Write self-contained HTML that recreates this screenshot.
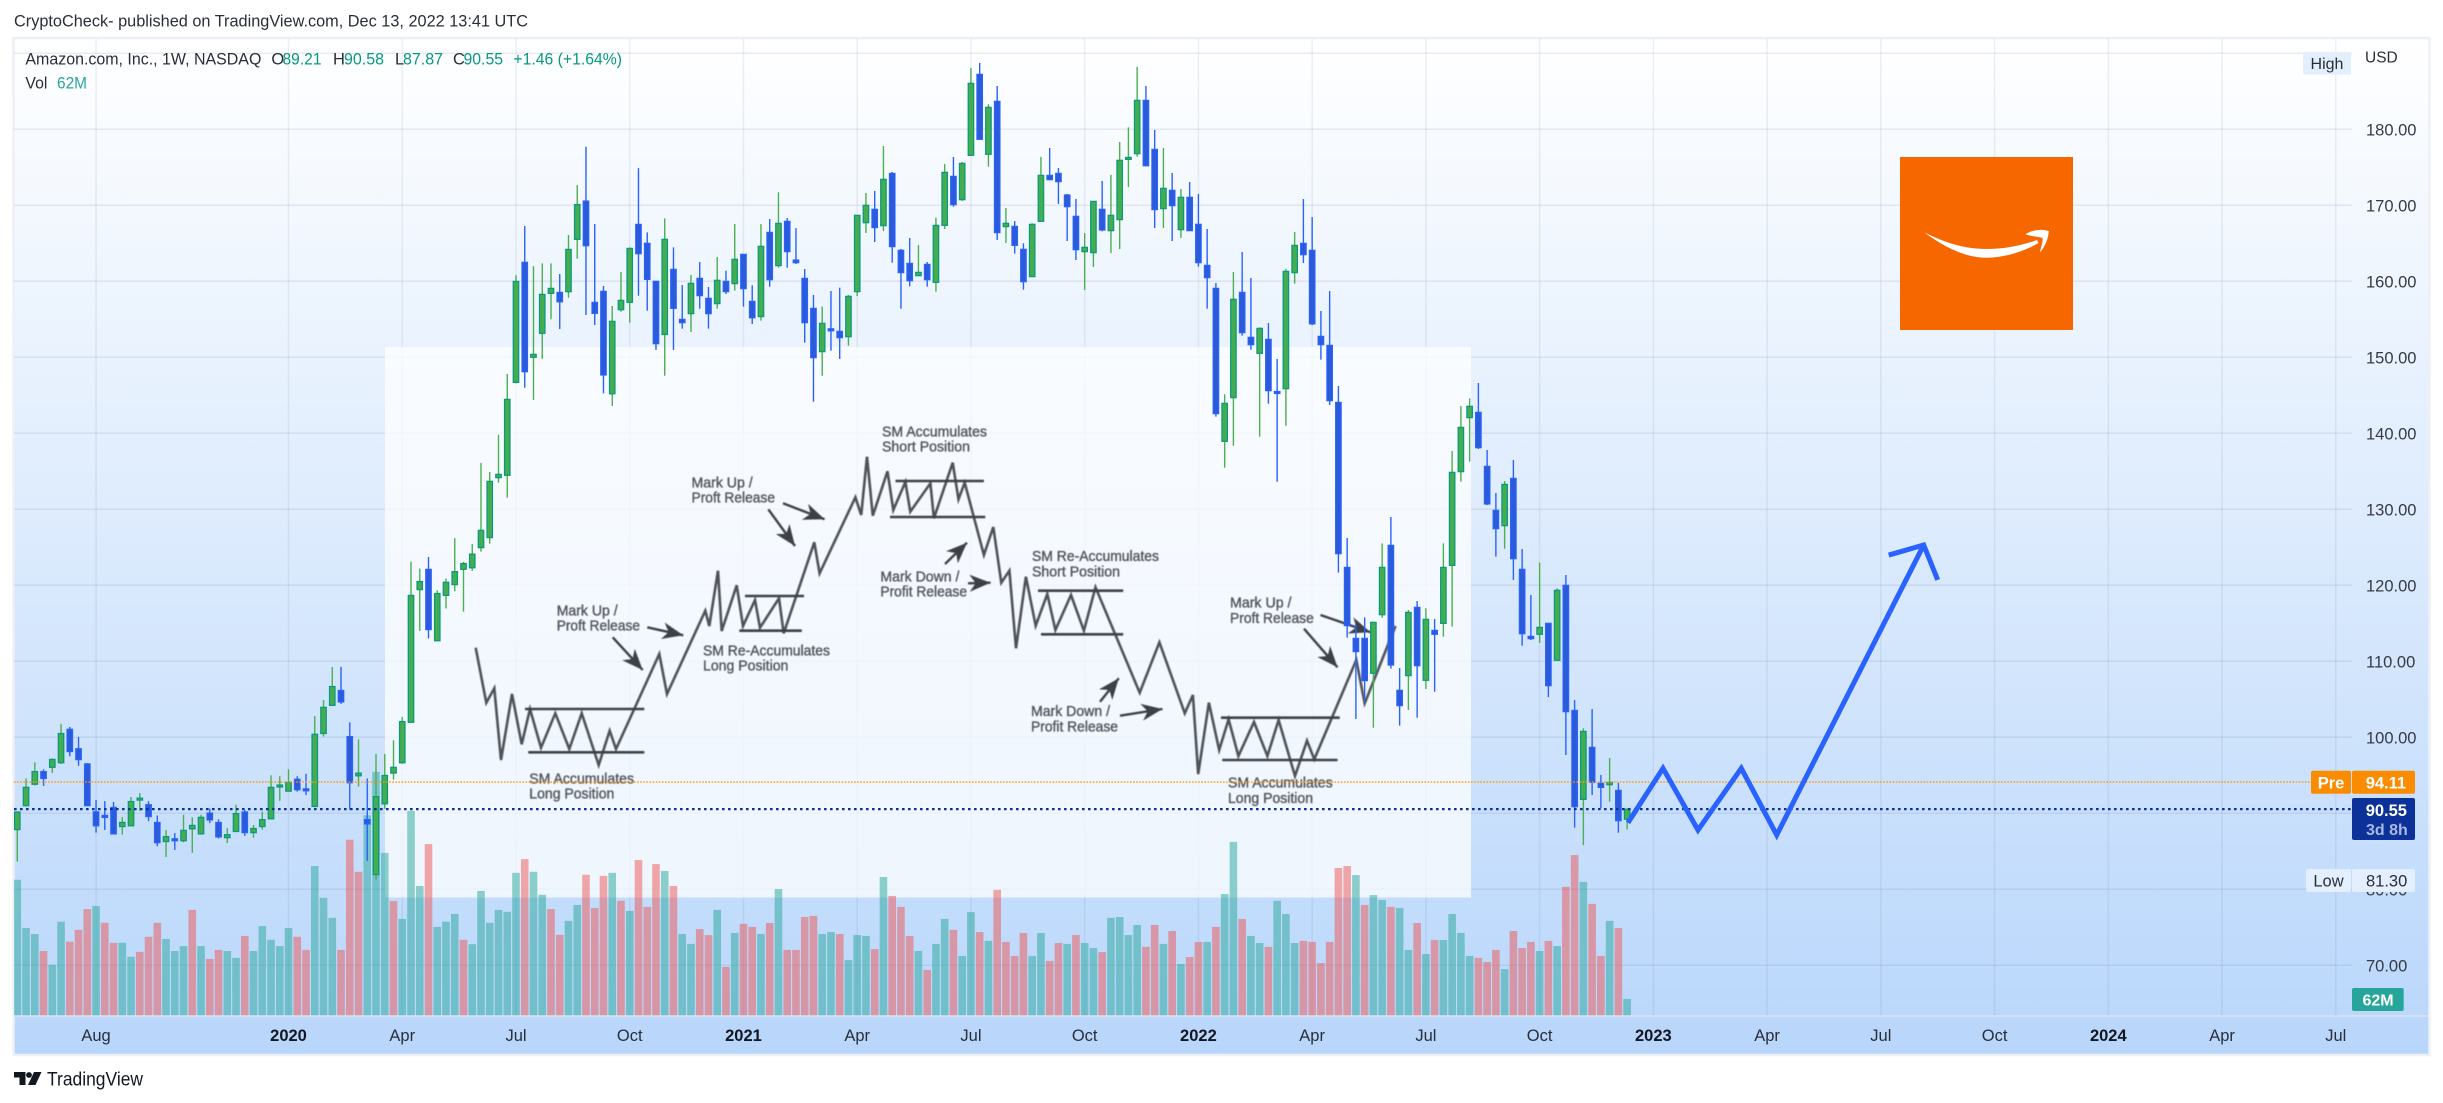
<!DOCTYPE html>
<html lang="en">
<head>
<meta charset="utf-8">
<title>Amazon.com weekly chart</title>
<style>
html,body{margin:0;padding:0;background:#fff;width:2443px;height:1103px;overflow:hidden}
svg{display:block}
text{font-family:"Liberation Sans",sans-serif}
</style>
</head>
<body>
<svg id="chart" xmlns="http://www.w3.org/2000/svg" width="2443" height="1103" viewBox="0 0 2443 1103">
<defs>
<linearGradient id="bgGrad" gradientUnits="userSpaceOnUse" x1="0" y1="38" x2="0" y2="1054">
<stop offset="0" stop-color="#ffffff"/><stop offset="1" stop-color="#b8d6fb"/>
</linearGradient>
<clipPath id="plotClip"><rect x="14" y="38" width="2338" height="978"/></clipPath>
<marker id="headM" markerUnits="userSpaceOnUse" markerWidth="22" markerHeight="18" refX="21" refY="9" orient="auto">
<path d="M0,0.5 L21,9 L0,17.5 L6,9z" fill="#3d4146"/>
</marker>
</defs>

<text x="14" y="26.5" font-size="16.5" fill="#2a2e39" textLength="514" lengthAdjust="spacingAndGlyphs">CryptoCheck- published on TradingView.com, Dec 13, 2022 13:41 UTC</text>

<rect x="13.5" y="38" width="2416" height="1017" fill="url(#bgGrad)" stroke="#eef0f6" stroke-width="2.5"/>

<g id="gridLayer"></g>

<rect x="385" y="347" width="1086" height="550.5" fill="#ffffff" fill-opacity="0.72"/>

<g style="filter:blur(0.45px)">
<polyline fill="none" stroke="#4f5357" stroke-width="2.6" stroke-linejoin="miter" points="475.7,647.7 486.3,702.7 494.3,688.3 501,760 512,694 521.7,744.3 530,709 541,747.7 555.3,713.3 569.3,749 581.7,713.3 598.7,765 609.7,730.7 616,749 659.3,654 667,694 705.3,610.7 709.3,626 718,570.7 721.7,631 736.7,585.3 743,626 755,600 760,627.7 779,598.3 783.7,633.3 814.3,542.3 819.6,573.3 855.4,497.3 861.2,515 867,456.7 872.8,515.7 887.5,471.3 893.3,510 905.4,482 910.3,511.7 930.4,483.3 933.9,518.3 952.7,462.7 958.5,499.3 964.7,482.7 983.9,555 993.3,527 1001.3,582.7 1009.4,570.7 1016,648.3 1025.9,576.7 1035.7,625.7 1047.3,594 1055.4,630 1071,595 1083.9,630.7 1095.5,587.3 1139.7,692.7 1159.4,642.3 1184.8,713.3 1192.9,695 1198.2,774 1208.9,702.7 1219.2,750 1228.6,719.3 1238.4,756 1254,722 1267.4,756 1278.6,720 1295,776 1307,740.7 1314.3,759.3 1356.3,660 1364.7,703.3 1395.5,626"/>
<g stroke="#3d4146" stroke-width="2.6">
<line x1="525" y1="709" x2="644.3" y2="709"/>
<line x1="528.3" y1="752.3" x2="644.3" y2="752.3"/>
<line x1="745" y1="596" x2="804" y2="596"/>
<line x1="739.3" y1="630.7" x2="801.8" y2="630.7"/>
<line x1="895.5" y1="481" x2="983.9" y2="481"/>
<line x1="890" y1="517" x2="985.3" y2="517"/>
<line x1="1038" y1="590.7" x2="1123.2" y2="590.7"/>
<line x1="1041" y1="634.3" x2="1123.2" y2="634.3"/>
<line x1="1221" y1="717.7" x2="1339.7" y2="717.7"/>
<line x1="1222.3" y1="760" x2="1337.5" y2="760"/>
</g>
<g stroke="#3d4146" stroke-width="2.4">
<line x1="647.3" y1="627.3" x2="683.3" y2="635.3" marker-end="url(#headM)"/>
<line x1="612.7" y1="637.3" x2="642.7" y2="670" marker-end="url(#headM)"/>
<line x1="783" y1="503.3" x2="824.6" y2="519.3" marker-end="url(#headM)"/>
<line x1="768.3" y1="509.3" x2="795" y2="546" marker-end="url(#headM)"/>
<line x1="945" y1="564" x2="967" y2="542.7" marker-end="url(#headM)"/>
<line x1="968" y1="583.3" x2="990.6" y2="582.7" marker-end="url(#headM)"/>
<line x1="1100" y1="701.7" x2="1118.8" y2="678.3" marker-end="url(#headM)"/>
<line x1="1120" y1="715.7" x2="1162.5" y2="709" marker-end="url(#headM)"/>
<line x1="1320.5" y1="615" x2="1370.5" y2="632.3" marker-end="url(#headM)"/>
<line x1="1304" y1="628.7" x2="1337.5" y2="667.3" marker-end="url(#headM)"/>
</g>
<g font-size="14.5" fill="#505358" stroke="#505358" stroke-width="0.35">
<text x="556.7" y="615.3" textLength="61" lengthAdjust="spacingAndGlyphs">Mark Up /</text>
<text x="556.7" y="630.3" textLength="83.3" lengthAdjust="spacingAndGlyphs">Proft Release</text>
<text x="529.3" y="783.3" textLength="104.7" lengthAdjust="spacingAndGlyphs">SM Accumulates</text>
<text x="529.3" y="798.7" textLength="85" lengthAdjust="spacingAndGlyphs">Long Position</text>
<text x="703" y="655.4" textLength="127" lengthAdjust="spacingAndGlyphs">SM Re-Accumulates</text>
<text x="703" y="670.7" textLength="85.4" lengthAdjust="spacingAndGlyphs">Long Position</text>
<text x="691.5" y="487.3" textLength="61.2" lengthAdjust="spacingAndGlyphs">Mark Up /</text>
<text x="691.5" y="502.3" textLength="83.5" lengthAdjust="spacingAndGlyphs">Proft Release</text>
<text x="882" y="436.3" textLength="105" lengthAdjust="spacingAndGlyphs">SM Accumulates</text>
<text x="882" y="451.7" textLength="88" lengthAdjust="spacingAndGlyphs">Short Position</text>
<text x="880.4" y="581.7" textLength="79" lengthAdjust="spacingAndGlyphs">Mark Down /</text>
<text x="880.4" y="596.7" textLength="86.6" lengthAdjust="spacingAndGlyphs">Profit Release</text>
<text x="1032" y="561" textLength="127" lengthAdjust="spacingAndGlyphs">SM Re-Accumulates</text>
<text x="1032" y="576.3" textLength="88" lengthAdjust="spacingAndGlyphs">Short Position</text>
<text x="1031" y="716" textLength="79" lengthAdjust="spacingAndGlyphs">Mark Down /</text>
<text x="1031" y="731.3" textLength="87" lengthAdjust="spacingAndGlyphs">Profit Release</text>
<text x="1230" y="607.7" textLength="61.5" lengthAdjust="spacingAndGlyphs">Mark Up /</text>
<text x="1230" y="623" textLength="83.8" lengthAdjust="spacingAndGlyphs">Proft Release</text>
<text x="1228" y="787.7" textLength="104.6" lengthAdjust="spacingAndGlyphs">SM Accumulates</text>
<text x="1228" y="803" textLength="85" lengthAdjust="spacingAndGlyphs">Long Position</text>
</g>
</g>

<g id="volumeLayer" clip-path="url(#plotClip)"></g>
<g id="candleLayer" clip-path="url(#plotClip)"></g>
<g id="priceLines"></g>
<g id="forecastLayer"></g>

<g>
<rect x="1900" y="157" width="173" height="173" fill="#f76700"/>
<path fill="#ffffff" d="M1924.2,232.3 C1948,250 1968,257.7 1986.5,257.7 C2005,257.7 2025,251 2038.5,243 L2037,240 C2020,246 2003,249 1986.5,249 C1965,249 1945,243 1924.2,232.3Z"/>
<path fill="#ffffff" d="M2025.4,234.3 C2031,230.5 2040,228.5 2048.8,231 C2048.5,238 2045,247 2039.8,252.7 C2041,247 2043,242 2042.6,238 C2038,236.5 2031,236.5 2025.4,234.3Z"/>
</g>

<line x1="14" y1="1016" x2="2429" y2="1016" stroke="#e0e3eb" stroke-width="1.5"/>
<g id="priceAxis"></g>
<g id="timeAxis"></g>

<g font-size="16.5">
<text x="25.4" y="64.5" fill="#2a2e39" textLength="236" lengthAdjust="spacingAndGlyphs">Amazon.com, Inc., 1W, NASDAQ</text>
<text x="271.4" y="64.5" fill="#2a2e39">O</text>
<text x="282.5" y="64.5" fill="#089981" textLength="39" lengthAdjust="spacingAndGlyphs">89.21</text>
<text x="333" y="64.5" fill="#2a2e39">H</text>
<text x="344" y="64.5" fill="#089981" textLength="40" lengthAdjust="spacingAndGlyphs">90.58</text>
<text x="395" y="64.5" fill="#2a2e39">L</text>
<text x="403" y="64.5" fill="#089981" textLength="40" lengthAdjust="spacingAndGlyphs">87.87</text>
<text x="453" y="64.5" fill="#2a2e39">C</text>
<text x="463.5" y="64.5" fill="#089981" textLength="39.5" lengthAdjust="spacingAndGlyphs">90.55</text>
<text x="513.4" y="64.5" fill="#089981" textLength="108.6" lengthAdjust="spacingAndGlyphs">+1.46 (+1.64%)</text>
<text x="25.4" y="88.5" fill="#2a2e39" textLength="22" lengthAdjust="spacingAndGlyphs">Vol</text>
<text x="57" y="88.5" fill="#26a69a" textLength="30" lengthAdjust="spacingAndGlyphs">62M</text>
</g>

<g>
<path fill="#131722" d="M14,1072 H25.5 V1085 H19.5 V1077.5 H14Z M34,1072 H41.5 L35.5,1085 H28Z"/>
<circle cx="29" cy="1075" r="2.9" fill="#131722"/>
<text x="47" y="1085.5" font-size="19" fill="#131722" textLength="96" lengthAdjust="spacingAndGlyphs">TradingView</text>
</g>
</svg>

<script>
var opens=[87.85,91.00,93.82,95.49,96.05,96.65,101.06,98.50,96.50,90.20,89.72,90.78,88.25,88.35,91.90,91.14,88.80,86.28,86.65,86.38,87.95,87.29,90.03,88.80,86.79,87.60,90.18,87.45,88.25,89.27,93.62,92.91,94.48,93.22,90.90,100.50,104.20,106.17,100.10,94.93,89.17,81.93,91.24,95.29,96.65,101.97,119.43,122.10,112.70,118.67,120.09,122.10,122.30,124.95,126.27,134.16,134.47,146.70,162.50,150.00,153.15,158.41,158.54,158.63,165.52,170.56,157.23,158.68,145.20,156.26,157.23,167.49,165.00,160.00,153.00,161.57,154.99,155.74,160.39,157.76,157.06,160.00,159.69,163.55,157.36,155.35,166.44,162.06,167.89,162.80,160.39,156.44,150.74,153.75,153.42,152.71,158.64,167.71,169.47,167.32,174.20,164.08,162.36,160.74,162.23,159.86,167.36,173.81,170.74,176.57,187.23,176.71,183.68,167.19,167.23,164.21,160.61,167.89,173.94,174.20,171.36,168.55,163.90,163.77,169.47,166.66,168.11,176.10,176.79,183.81,177.36,169.56,171.97,166.79,171.05,167.50,162.10,159.07,138.94,144.69,158.55,152.63,150.52,152.36,145.50,145.87,161.14,165.00,164.08,152.76,151.57,144.07,122.36,113.02,113.02,108.42,116.13,125.26,106.18,108.11,117.10,107.50,114.07,114.99,122.62,134.95,142.06,142.76,135.65,129.86,127.85,134.07,122.10,113.28,113.55,115.00,110.13,120.00,103.54,91.83,98.68,93.94,93.76,93.02,89.21];
var highs=[90.18,94.58,96.70,95.80,97.20,101.77,101.36,100.05,96.60,91.75,91.60,91.50,89.50,92.15,92.66,91.60,89.70,87.80,87.40,89.80,89.47,89.80,90.63,89.20,88.05,91.14,90.43,88.46,90.23,95.00,94.88,95.80,94.88,95.20,102.80,104.90,109.26,109.26,101.97,99.74,94.58,97.82,97.82,99.60,102.68,123.10,122.20,123.73,119.33,120.90,126.20,123.10,125.45,136.09,134.91,139.80,147.80,160.80,167.27,162.00,162.36,162.36,160.96,166.09,172.67,177.71,167.54,159.38,156.75,161.22,164.46,174.90,166.44,160.00,168.28,164.46,159.50,160.83,162.54,159.25,163.20,161.40,167.54,163.55,159.47,167.54,168.20,171.71,168.33,167.00,161.62,158.20,156.66,158.72,159.16,158.20,168.68,171.62,171.88,177.80,174.38,164.25,165.70,164.78,162.54,168.37,175.43,176.36,175.70,188.07,188.72,183.29,185.70,169.64,167.93,165.00,167.63,176.36,177.54,174.91,171.49,170.83,166.36,170.52,173.20,173.99,178.33,180.26,188.20,185.70,179.91,177.54,174.25,172.14,173.07,171.49,166.88,159.78,145.13,161.22,163.86,160.43,153.94,154.51,149.78,161.62,166.49,170.83,168.46,156.09,158.72,146.22,126.22,114.90,115.78,115.13,125.52,128.98,109.12,116.75,117.93,116.97,115.56,125.52,137.67,143.59,144.60,146.62,137.80,132.14,133.72,136.49,124.77,118.72,123.00,115.00,119.60,121.35,104.90,101.18,103.72,95.04,97.27,94.00,90.58];
var lows=[83.65,90.90,93.67,93.60,95.30,96.50,97.50,96.25,91.00,87.45,87.80,87.29,87.20,88.35,90.33,88.96,85.67,84.26,85.17,86.18,84.80,87.19,88.71,86.69,86.08,87.60,87.04,86.79,87.85,89.27,91.64,92.90,92.86,92.40,90.80,100.10,104.10,104.40,90.48,93.52,83.75,81.27,90.58,94.43,96.50,101.97,114.00,113.00,112.70,116.95,119.20,116.54,121.90,124.42,125.48,133.50,131.53,146.57,146.00,144.40,149.80,155.00,153.72,157.84,162.97,155.56,154.25,145.25,143.60,156.00,154.55,158.10,156.13,150.96,147.58,150.96,153.76,153.33,156.40,153.77,156.40,158.33,158.77,156.66,154.38,154.82,159.29,161.79,161.79,162.28,151.93,144.16,147.58,150.87,149.78,151.53,158.07,166.36,165.17,166.62,162.45,156.40,159.34,160.70,159.29,158.64,166.88,169.82,170.57,176.49,178.68,175.08,165.43,165.04,163.64,158.90,160.61,167.85,173.29,170.17,165.30,162.80,158.85,161.88,166.57,163.72,164.25,172.41,176.40,175.20,167.01,167.01,165.30,165.70,166.66,161.93,156.40,142.19,135.48,138.37,152.85,151.00,139.56,143.90,133.63,141.00,159.69,162.41,154.25,149.69,143.72,121.66,113.11,102.41,104.70,101.27,115.74,109.03,101.53,103.59,102.58,106.35,106.00,113.24,114.56,133.63,136.27,137.93,130.56,123.77,124.82,120.70,112.05,112.80,112.41,105.30,110.13,97.67,88.11,85.83,92.40,90.65,91.53,87.45,87.87];
var closes=[90.18,93.42,95.49,94.58,97.10,100.50,98.12,97.06,91.00,88.35,89.57,87.29,88.80,91.55,92.00,89.57,86.13,86.94,86.50,87.75,88.41,89.47,89.12,86.89,87.19,89.97,87.45,88.00,89.17,93.42,93.72,94.07,93.10,93.10,100.40,103.94,106.68,104.65,94.02,95.29,88.60,92.20,94.98,96.05,102.07,118.67,120.50,114.17,118.92,120.40,121.80,122.87,124.10,127.23,133.68,134.60,144.47,159.99,148.10,150.39,158.28,159.07,157.30,164.20,170.10,164.68,155.78,147.67,154.73,157.49,164.33,163.63,160.25,151.79,165.52,156.44,154.55,159.73,158.11,155.74,160.13,158.64,162.89,159.03,155.20,164.60,160.21,167.63,163.90,162.45,154.56,149.95,154.47,153.60,152.58,158.02,168.68,170.00,167.06,173.42,164.56,161.14,160.08,161.18,160.21,167.36,174.34,170.08,175.52,186.05,178.68,182.89,166.40,167.63,164.73,159.95,167.50,173.94,173.37,173.11,169.82,164.16,164.47,170.52,166.75,168.68,175.92,176.30,183.81,175.20,169.43,172.23,169.95,171.05,166.66,162.45,160.48,142.58,143.94,157.63,153.24,151.66,153.81,145.61,145.36,161.31,164.73,163.50,154.40,151.66,144.29,124.16,114.69,111.27,107.45,115.13,122.36,109.51,104.16,116.44,109.42,115.52,113.55,122.36,134.86,140.78,143.55,138.11,130.70,127.45,133.28,123.50,113.63,112.98,114.47,106.79,119.34,103.37,90.87,100.78,94.07,93.41,94.07,89.03,90.55];
var volumes=[497,321,299,237,187,344,271,314,390,401,340,267,267,216,234,289,340,281,237,255,387,255,208,241,237,212,292,237,328,278,255,321,289,241,547,431,358,241,643,526,732,891,595,419,354,748,474,627,325,344,372,278,262,456,340,387,380,522,572,526,442,390,296,347,405,515,394,511,522,420,383,569,398,554,529,474,299,263,317,295,387,179,303,336,325,299,339,463,241,241,361,365,299,306,299,204,295,292,244,507,438,398,292,237,168,263,354,314,219,379,306,274,460,270,219,303,219,303,201,266,263,295,266,248,233,358,361,295,332,252,332,263,310,190,215,270,270,325,445,635,354,292,266,252,420,372,266,274,270,193,270,540,547,514,405,441,423,398,394,241,339,226,277,277,372,303,219,212,197,241,171,310,248,270,237,274,255,471,587,489,409,219,347,321,62];
var volumeUpFlags="1110110001"+"0011000111"+"0100110111"+"1100111000"+"1110111011"+"1011111101"+"1001100010"+"1000101100"+"1010010100"+"0011011101"+"0001011011"+"0100001100"+"1011011110"+"0101001011"+"0110111000"+"0001011011"+"0101111000"+"1000101001"+"00101";
var priceTicks=[180,170,160,150,140,130,120,110,100,80,70];
var gridPrices=[190,180,170,160,150,140,130,120,110,100,90,80,70];
var timeTickWeeks=[9,31,44,57,70,83,96,109,122,135,148,161,174,187,200,213,226,239,252,265];
var timeTickLabels=["Aug","2020","Apr","Jul","Oct","2021","Apr","Jul","Oct","2022","Apr","Jul","Oct","2023","Apr","Jul","Oct","2024","Apr","Jul"];
var timeTickMajor=[0,1,0,0,0,1,0,0,0,1,0,0,0,1,0,0,0,1,0,0];
var forecastWeeks=[184.1,188.1,192.1,197.05,201.1,217.9];
var forecastPrices=[88.76,95.92,87.8,95.92,87.14,125.3];
var forecastHeadWeeks=[213.9,217.9,219.5];
var forecastHeadPrices=[123.98,125.3,120.7];
var lastPrice=90.55;
var prePrice=94.11;
var lowPrice=81.30;
var highLabel="High";
var currency="USD";
var lastVolumeLabel="62M";

var NS="http://www.w3.org/2000/svg";
function xScale(week){return 17.3+8.749*week;}
function yPrice(p){return 129.3+(180-p)*7.6;}
function yVolume(v){return 1016-v/3.647;}
function mk(tag,attrs,parent){
  var el=document.createElementNS(NS,tag);
  for(var k in attrs){el.setAttribute(k,attrs[k]);}
  parent.appendChild(el);
  return el;
}

var gridLayer=document.getElementById("gridLayer");
gridPrices.forEach(function(p){
  var el=mk("line",{x1:14,x2:2352,y1:yPrice(p),y2:yPrice(p),stroke:"#5a6e96","stroke-opacity":0.13,"stroke-width":1.5},gridLayer);
  
  
});
timeTickWeeks.forEach(function(w){
  var el=mk("line",{x1:xScale(w),x2:xScale(w),y1:39,y2:1016,stroke:"#5a6e96","stroke-opacity":0.11,"stroke-width":1.5},gridLayer);
  
  
});

var volumeLayer=document.getElementById("volumeLayer");
volumes.forEach(function(v,i){
  var up=volumeUpFlags.charAt(i)==="1";
  var y=yVolume(v);
  var el=mk("rect",{x:xScale(i)-3.8,y:y,width:7.6,height:1016-y,fill:up?"#26a69a":"#ef5350","fill-opacity":0.5},volumeLayer);
  
  
});

var candleLayer=document.getElementById("candleLayer");
opens.forEach(function(o,i){
  var c=closes[i],up=c>=o;
  var g=mk("g",{},candleLayer);
  
  
  var x=xScale(i);
  var wick=mk("line",{x1:x,x2:x,y1:yPrice(highs[i]),y2:yPrice(lows[i]),stroke:up?"#4caf50":"#2962ff","stroke-width":1.4},g);
  
  
  var top=yPrice(Math.max(o,c)),bot=yPrice(Math.min(o,c));
  var h=Math.max(bot-top,2);
  var body=mk("rect",{x:x-2.75,y:top,width:5.5,height:h,fill:up?"#43ad50":"#2b5bd8",stroke:up?"#089981":"#2962ff","stroke-width":1.2},g);
  
  
});

var priceLines=document.getElementById("priceLines");
var preLine=mk("line",{x1:14,x2:2311,y1:yPrice(prePrice),y2:yPrice(prePrice),stroke:"#ff9800","stroke-width":1.4,"stroke-dasharray":"1.6 1.5"},priceLines);


var lastLine=mk("line",{x1:14,x2:2352,y1:yPrice(lastPrice),y2:yPrice(lastPrice),stroke:"#0c3299","stroke-width":2.2,"stroke-dasharray":"2.6 3.4"},priceLines);



var forecastLayer=document.getElementById("forecastLayer");
function ptsOf(ws,ps){return ws.map(function(w,i){return xScale(w)+","+yPrice(ps[i]);}).join(" ");}
var fLine=mk("polyline",{points:ptsOf(forecastWeeks,forecastPrices),fill:"none",stroke:"#2962ff","stroke-width":5,"stroke-linejoin":"miter"},forecastLayer);


var fHead=mk("polyline",{points:ptsOf(forecastHeadWeeks,forecastHeadPrices),fill:"none",stroke:"#2962ff","stroke-width":5,"stroke-linejoin":"miter"},forecastLayer);



var priceAxis=document.getElementById("priceAxis");
function txt(str,x,y,size,fill,weight,anchor,parent){
  var t=mk("text",{x:x,y:y,"font-size":size,fill:fill},parent);
  if(weight){t.setAttribute("font-weight",weight);}
  if(anchor){t.setAttribute("text-anchor",anchor);}
  t.textContent=str;
  return t;
}
priceTicks.forEach(function(p){
  var t=txt(p.toFixed(2),2366,yPrice(p)+6,16.5,"#363a45",null,null,priceAxis);
  
  
});

var usd=txt(currency,2365,62.5,15.5,"#2a2e39",null,null,priceAxis);


var hiBox=mk("rect",{x:2303,y:52,width:48,height:22.7,fill:"#e3effd",rx:1.5},priceAxis);


var hiText=txt(highLabel,2327,69,16,"#2a2e39",null,"middle",priceAxis);



var preY=yPrice(prePrice);
var preKey=mk("rect",{x:2311,y:preY-11.3,width:40,height:23,fill:"#fb8c00",rx:2},priceAxis);


var preVal=mk("rect",{x:2352,y:preY-11.3,width:63,height:23,fill:"#fb8c00",rx:2},priceAxis);


var preT=txt("Pre",2331,preY+6.5,16.5,"#ffffff","bold","middle",priceAxis);


var preV=txt(prePrice.toFixed(2),2365.7,preY+6.5,16.5,"#ffffff","bold",null,priceAxis);



var lastBox=mk("rect",{x:2352,y:798,width:63,height:42,fill:"#0c3299",rx:2},priceAxis);


var lastT=txt(lastPrice.toFixed(2),2365.7,816,16.5,"#ffffff","bold",null,priceAxis);


var cd=txt("3d 8h",2366,835,16,"#aab8e2","bold",null,priceAxis);



var lowKey=mk("rect",{x:2306,y:869,width:45,height:23,fill:"#e3effd",rx:2},priceAxis);


var lowVal=mk("rect",{x:2352,y:869,width:63,height:23,fill:"#e3effd",rx:2},priceAxis);


var lowT=txt("Low",2328.5,886.5,16.5,"#2a2e39",null,"middle",priceAxis);


var lowV=txt(lowPrice.toFixed(2),2366,886.5,16.5,"#2a2e39",null,null,priceAxis);



var volBox=mk("rect",{x:2352,y:988,width:51.7,height:23,fill:"#26a69a",rx:2},priceAxis);


var volT=txt(lastVolumeLabel,2378,1005.5,16,"#ffffff","bold","middle",priceAxis);



var timeAxis=document.getElementById("timeAxis");
timeTickWeeks.forEach(function(w,i){
  var major=timeTickMajor[i]===1;
  var t=txt(timeTickLabels[i],xScale(w),1041,16.5,major?"#131722":"#2a2e39",major?"bold":null,"middle",timeAxis);
  
  
});
</script>
</body>
</html>
